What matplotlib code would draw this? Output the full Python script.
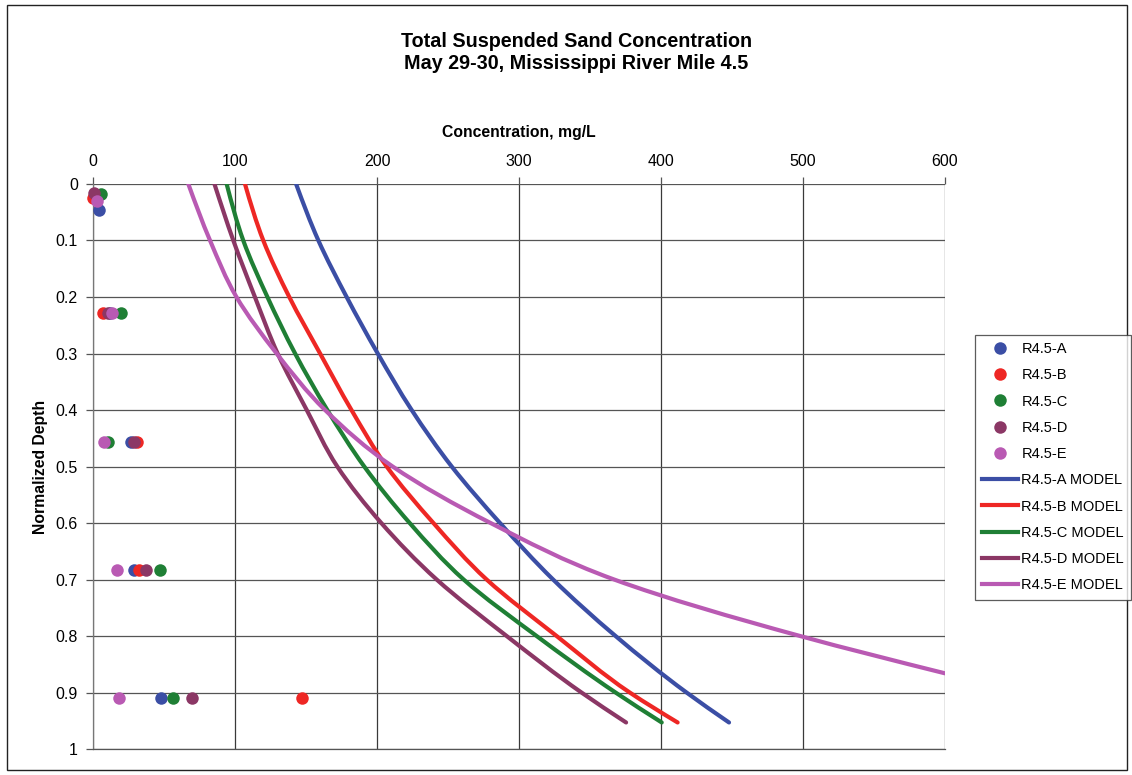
import matplotlib
matplotlib.use("Agg")
import matplotlib.pyplot as plt
from matplotlib.patches import Rectangle, PathPatch
from matplotlib.path import Path

plt.rcParams['font.family'] = ['Liberation Sans', 'DejaVu Sans']

# Measured sand concentration (mg/L) at normalized depth for each station
a_depth = [0.046, 0.228, 0.456, 0.683, 0.910]
a_conc = [4.2, 12.0, 26.5, 28.9, 47.7]
b_depth = [0.025, 0.228, 0.456, 0.683, 0.910]
b_conc = [0.3, 6.8, 31.2, 32.2, 147.0]
c_depth = [0.018, 0.228, 0.456, 0.683, 0.910]
c_conc = [5.4, 19.5, 10.8, 47.2, 56.1]
d_depth = [0.016, 0.228, 0.456, 0.683, 0.910]
d_conc = [0.8, 10.8, 28.9, 37.3, 69.7]
e_depth = [0.030, 0.228, 0.456, 0.683, 0.910]
e_conc = [2.6, 13.1, 8.0, 16.7, 18.5]

# Model profiles (concentration at normalized depth)
a_model_depth = [0.0, 0.1, 0.2, 0.3, 0.4, 0.5, 0.6, 0.7, 0.8, 0.9, 0.953]
a_model_conc = [143.0, 158.7, 178.6, 200.5, 224.4, 252.6, 286.6, 324.0, 368.0, 418.0, 447.9]
b_model_depth = [0.0, 0.1, 0.2, 0.3, 0.4, 0.5, 0.6, 0.7, 0.8, 0.9, 0.953]
b_model_conc = [107.0, 119.9, 138.2, 159.9, 182.0, 206.8, 239.7, 277.2, 326.5, 378.0, 411.7]
c_model_depth = [0.0, 0.1, 0.2, 0.3, 0.4, 0.5, 0.6, 0.7, 0.8, 0.9, 0.953]
c_model_conc = [94.1, 105.8, 122.8, 142.3, 165.0, 191.0, 223.0, 261.0, 312.4, 368.0, 400.5]
d_model_depth = [0.0, 0.1, 0.2, 0.3, 0.4, 0.5, 0.6, 0.7, 0.8, 0.9, 0.953]
d_model_conc = [85.5, 98.8, 114.0, 130.0, 150.5, 172.0, 203.0, 242.0, 291.3, 344.0, 375.4]
e_model_depth = [0.0, 0.1, 0.2, 0.3, 0.4, 0.5, 0.6, 0.7, 0.8, 0.866]
e_model_conc = [67.1, 82.4, 101.0, 129.3, 163.4, 211.0, 280.0, 367.0, 498.0, 600.0]

names = ['R4.5-A', 'R4.5-B', 'R4.5-C', 'R4.5-D', 'R4.5-E']
colors = ['#3b4ea5', '#ee2724', '#1f7f35', '#8b3765', '#b95ab3']

x_ticks = [0, 100, 200, 300, 400, 500, 600]
y_ticks = [0, 0.1, 0.2, 0.3, 0.4, 0.5, 0.6, 0.7, 0.8, 0.9, 1.0]
y_tick_labels = ['0', '0.1', '0.2', '0.3', '0.4', '0.5', '0.6', '0.7', '0.8', '0.9', '1']

obs = [(a_conc, a_depth), (b_conc, b_depth), (c_conc, c_depth), (d_conc, d_depth), (e_conc, e_depth)]
models = [(a_model_conc, a_model_depth), (b_model_conc, b_model_depth),
          (c_model_conc, c_model_depth), (d_model_conc, d_model_depth),
          (e_model_conc, e_model_depth)]


def smooth_profile(conc, depth):
    """Smoothed line through the profile points (cubic Hermite in depth, as Bezier)."""
    n = len(depth)
    h = [depth[i + 1] - depth[i] for i in range(n - 1)]
    s = [(conc[i + 1] - conc[i]) / h[i] for i in range(n - 1)]
    m = [0.0] * n
    for i in range(1, n - 1):
        m[i] = (s[i - 1] * h[i] + s[i] * h[i - 1]) / (h[i - 1] + h[i])
    m[0] = (3 * s[0] - m[1]) / 2
    m[-1] = (3 * s[-1] - m[-2]) / 2
    verts = [(conc[0], depth[0])]
    codes = [Path.MOVETO]
    for i in range(n - 1):
        verts.append((conc[i] + m[i] * h[i] / 3, depth[i] + h[i] / 3))
        verts.append((conc[i + 1] - m[i + 1] * h[i] / 3, depth[i + 1] - h[i] / 3))
        verts.append((conc[i + 1], depth[i + 1]))
        codes += [Path.CURVE4] * 3
    return Path(verts, codes)


fig = plt.figure(figsize=(11.32, 7.75), dpi=100)
ax = fig.add_axes([0.0822, 0.0335, 0.7526, 0.7291])

for xv in x_ticks:
    ax.axvline(xv, color='#3a3a3a', lw=0.9, zorder=0)
for yv in y_ticks:
    ax.axhline(yv, color='#555555', lw=0.9, zorder=0)

handles = []
for (xs, ys), name, col in zip(obs, names, colors):
    h, = ax.plot(xs, ys, 'o', color=col, markersize=9, markeredgewidth=0,
                 clip_on=False, zorder=4, label=name)
    handles.append(h)
for (xs, ys), name, col in zip(models, names, colors):
    patch = PathPatch(smooth_profile(xs, ys), facecolor='none', edgecolor=col,
                      lw=3.0, capstyle='round', zorder=3)
    ax.add_patch(patch)
    h, = ax.plot([], [], '-', color=col, lw=3.0, label=name + ' MODEL')
    handles.append(h)

ax.set_xlim(0, 600)
ax.set_ylim(1, 0)
ax.xaxis.tick_top()
ax.xaxis.set_label_position('top')
ax.set_xticks(x_ticks)
ax.set_yticks(y_ticks)
ax.set_yticklabels(y_tick_labels)
ax.tick_params(axis='both', labelsize=11.5, color='#555555', length=5, width=0.9,
               direction='out')
ax.tick_params(axis='x', pad=6)
ax.tick_params(axis='y', pad=6)
for side in ['top', 'right']:
    ax.spines[side].set_visible(False)
ax.spines['left'].set_color('#777777')
ax.spines['bottom'].set_color('#555555')
ax.spines['left'].set_linewidth(0.9)
ax.spines['bottom'].set_linewidth(0.9)

ax.set_xlabel('Concentration, mg/L', fontsize=11.3, fontweight='bold', labelpad=12)
ax.set_ylabel('Normalized Depth', fontsize=11.3, fontweight='bold', labelpad=5)

fig.text(0.509, 0.947, 'Total Suspended Sand Concentration', ha='center', va='center',
         fontsize=14.2, fontweight='bold')
fig.text(0.509, 0.918, 'May 29-30, Mississippi River Mile 4.5', ha='center', va='center',
         fontsize=14.2, fontweight='bold')

leg = fig.legend(handles=handles, loc='upper left', bbox_to_anchor=(0.861, 0.568),
                 fontsize=10.5, frameon=True, fancybox=False, edgecolor='#333333',
                 handlelength=2.5, handletextpad=0.2, labelspacing=0.84,
                 borderpad=0.5, borderaxespad=0)
leg.get_frame().set_linewidth(0.9)

fig.patches.append(Rectangle((0.006, 0.006), 0.99, 0.988, transform=fig.transFigure,
                             fill=False, edgecolor='#222222', lw=1.0))

fig.savefig('out.png', dpi=100)
